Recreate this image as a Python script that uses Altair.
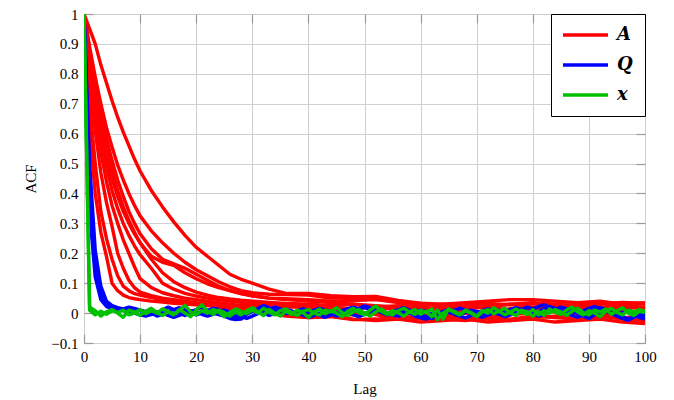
import altair as alt
import pandas as pd

# ---------------- data ----------------
LAG_A = [0, 1, 2, 3, 4, 5, 6, 7, 8, 9, 10, 12, 14, 16, 18, 20, 22, 24, 26, 28, 30,
         33, 36, 40, 44, 48, 52, 56, 60, 64, 68, 72, 76, 80, 84, 88, 92, 96, 100]

A1 = [1.0, 0.95, 0.90, 0.83, 0.77, 0.71, 0.655, 0.605, 0.56, 0.515, 0.475, 0.41, 0.355, 0.305, 0.26,
      0.22, 0.19, 0.16, 0.13, 0.113, 0.10, 0.08, 0.066, 0.066, 0.058, 0.055, 0.056, 0.042, 0.033,
      0.03, 0.028, 0.032, 0.028, 0.033, 0.025, 0.028, 0.03, 0.036, 0.032]
A2 = [1.0, 0.89, 0.79, 0.70, 0.62, 0.555, 0.495, 0.445, 0.40, 0.36, 0.325, 0.275, 0.235, 0.20, 0.17,
      0.145, 0.125, 0.105, 0.088, 0.075, 0.068, 0.063, 0.062, 0.06, 0.05, 0.052, 0.05, 0.04, 0.025,
      0.03, 0.035, 0.04, 0.045, 0.045, 0.04, 0.035, 0.04, 0.03, 0.035]
A3 = [1.0, 0.86, 0.73, 0.62, 0.53, 0.45, 0.39, 0.34, 0.30, 0.265, 0.235, 0.19, 0.17, 0.16, 0.135,
      0.115, 0.098, 0.085, 0.075, 0.065, 0.058, 0.05, 0.045, 0.04, 0.035, 0.03, 0.02, 0.01, 0.0,
      -0.008, 0.01, 0.0, 0.015, 0.02, 0.01, 0.0, 0.005, 0.01, 0.0]
A4 = [1.0, 0.84, 0.70, 0.59, 0.49, 0.41, 0.35, 0.30, 0.26, 0.225, 0.195, 0.15, 0.10, 0.08, 0.066,
      0.057, 0.05, 0.045, 0.04, 0.036, 0.032, 0.028, 0.022, 0.018, 0.012, 0.005, -0.005, -0.02, -0.015,
      -0.02, -0.025, -0.015, -0.02, -0.01, -0.015, -0.02, -0.01, -0.02, -0.025]
A5 = [1.0, 0.78, 0.61, 0.47, 0.37, 0.29, 0.20, 0.15, 0.11, 0.085, 0.07, 0.058, 0.05, 0.045, 0.04,
      0.035, 0.032, 0.03, 0.028, 0.026, 0.025, 0.022, 0.02, 0.025, 0.02, 0.015, 0.02, 0.025, 0.01,
      0.02, 0.015, 0.025, 0.03, 0.02, 0.025, 0.02, 0.015, 0.02, 0.015]
A6 = [1.0, 0.62, 0.40, 0.27, 0.19, 0.10, 0.075, 0.06, 0.052, 0.048, 0.045, 0.04, 0.037, 0.033, 0.03,
      0.028, 0.025, 0.02, 0.015, 0.01, 0.005, 0.0, -0.01, -0.015, -0.01, -0.02, -0.025, -0.02, -0.03,
      -0.025, -0.02, -0.03, -0.025, -0.02, -0.03, -0.025, -0.02, -0.03, -0.035]
A7 = [1.0, 0.70, 0.50, 0.34, 0.25, 0.18, 0.125, 0.09, 0.075, 0.065, 0.06, 0.052, 0.045, 0.04, 0.036,
      0.032, 0.028, 0.022, 0.018, 0.012, 0.008, 0.005, 0.0, -0.005, -0.01, -0.005, 0.0, -0.01, -0.015,
      -0.005, 0.0, -0.01, -0.005, 0.0, 0.005, 0.0, -0.005, 0.005, 0.0]
A8 = [1.0, 0.87, 0.75, 0.645, 0.555, 0.475, 0.41, 0.355, 0.31, 0.27, 0.235, 0.18, 0.135, 0.105, 0.085,
      0.07, 0.06, 0.052, 0.047, 0.043, 0.04, 0.036, 0.032, 0.03, 0.025, 0.03, 0.025, 0.02, 0.015,
      0.02, 0.025, 0.02, 0.01, 0.015, 0.02, 0.025, 0.02, 0.025, 0.02]
A9 = [1.0, 0.88, 0.77, 0.67, 0.585, 0.51, 0.445, 0.39, 0.34, 0.30, 0.265, 0.215, 0.18, 0.165, 0.15,
      0.13, 0.11, 0.09, 0.075, 0.065, 0.058, 0.05, 0.048, 0.045, 0.04, 0.042, 0.045, 0.035, 0.02,
      0.01, 0.015, 0.02, 0.03, 0.035, 0.03, 0.025, 0.03, 0.035, 0.03]
A10 = [1.0, 0.81, 0.66, 0.54, 0.44, 0.36, 0.30, 0.245, 0.20, 0.155, 0.115, 0.085, 0.068, 0.058, 0.05,
       0.045, 0.04, 0.035, 0.03, 0.022, 0.015, 0.005, -0.005, -0.015, -0.012, -0.022, -0.02, -0.015, -0.02,
       -0.01, -0.015, -0.02, -0.025, -0.015, -0.01, -0.005, -0.01, -0.015, -0.01]

LAG_N = list(range(0, 101))

Q1 = [1.0, 0.42, 0.16, 0.065, 0.03, 0.02, 0.015, 0.012, 0.01, 0.012, 0.008,
      0.005, -0.005, 0.0, 0.01, 0.02, 0.012, 0.0, -0.008, 0.004, 0.012,
      0.018, 0.01, 0.0, -0.005, -0.01, -0.018, -0.022, -0.02, -0.005, 0.005,
      0.015, 0.025, 0.018, 0.01, 0.005, -0.002, 0.004, 0.0, -0.006, 0.002,
      0.01, 0.016, 0.01, 0.004, 0.0, 0.008, 0.015, 0.02, 0.014, 0.018,
      0.012, 0.005, 0.01, 0.0, -0.006, -0.01, -0.004, 0.002, -0.01, -0.016,
      -0.02, -0.012, -0.002, 0.006, 0.012, 0.004, -0.004, 0.002, 0.01, 0.006,
      0.0, -0.006, 0.002, 0.01, 0.006, 0.012, 0.018, 0.012, 0.02, 0.014,
      0.022, 0.028, 0.02, 0.012, 0.004, 0.01, 0.006, 0.0, -0.01, -0.018,
      -0.006, 0.004, 0.012, 0.006, -0.004, -0.012, -0.02, -0.01, -0.014, -0.02]
Q2 = [1.0, 0.5, 0.21, 0.09, 0.04, 0.025, 0.018, 0.014, 0.02, 0.016, 0.01,
      0.004, 0.0, -0.01, -0.004, 0.006, 0.012, 0.018, 0.01, 0.002, -0.006,
      0.0, 0.008, 0.016, 0.012, 0.004, -0.006, -0.014, -0.008, 0.002, 0.012,
      0.006, 0.0, -0.008, -0.002, 0.006, 0.012, 0.008, 0.0, -0.006, -0.014,
      -0.008, 0.0, 0.006, -0.002, -0.01, -0.004, 0.004, 0.01, 0.016, 0.024,
      0.018, 0.01, 0.002, -0.006, 0.0, 0.008, 0.004, -0.002, 0.004, 0.01,
      0.006, -0.004, -0.012, -0.006, 0.002, 0.01, 0.016, 0.01, 0.002, -0.008,
      -0.014, -0.006, 0.002, -0.004, -0.012, -0.006, 0.002, 0.008, 0.004, -0.002,
      0.006, 0.014, 0.022, 0.016, 0.008, 0.0, -0.008, -0.014, -0.006, 0.002,
      0.01, 0.018, 0.012, 0.004, -0.004, 0.002, 0.01, 0.004, -0.004, -0.01]
Q3 = [1.0, 0.34, 0.12, 0.045, 0.022, 0.016, 0.012, 0.008, 0.004, 0.0, -0.006,
      -0.01, -0.004, 0.004, 0.0, -0.008, -0.014, -0.008, 0.0, 0.008, 0.004,
      -0.004, -0.01, -0.004, 0.004, 0.01, 0.004, -0.004, -0.012, -0.018, -0.01,
      -0.002, 0.006, 0.012, 0.02, 0.014, 0.006, 0.0, 0.008, 0.014, 0.008,
      0.0, -0.008, -0.014, -0.006, 0.002, 0.008, 0.002, -0.006, -0.012, -0.004,
      0.004, 0.012, 0.006, -0.002, 0.006, 0.012, 0.018, 0.01, 0.002, -0.006,
      -0.012, -0.018, -0.01, -0.002, 0.004, -0.004, -0.01, -0.016, -0.008, 0.0,
      0.008, 0.014, 0.008, 0.0, -0.008, -0.002, 0.006, 0.012, 0.006, -0.002,
      -0.01, -0.004, 0.004, 0.012, 0.02, 0.014, 0.006, 0.0, 0.008, 0.016,
      0.022, 0.014, 0.006, -0.002, -0.01, -0.018, -0.024, -0.014, -0.004, 0.004]

X1 = [1.0, 0.02, 0.008, -0.01, 0.004, 0.012, 0.0, -0.014, 0.01, 0.004, -0.008,
      0.006, 0.016, 0.002, -0.008, 0.004, -0.006, 0.012, 0.0, -0.012, 0.01,
      0.028, 0.006, -0.004, 0.01, 0.002, -0.01, 0.004, -0.006, 0.008, 0.018,
      0.004, -0.008, 0.012, 0.0, -0.01, 0.006, -0.004, 0.01, 0.002, -0.014,
      0.004, 0.014, -0.002, 0.008, 0.0, -0.012, 0.006, 0.016, 0.002, -0.006,
      0.01, 0.024, 0.006, -0.004, 0.008, 0.002, -0.01, 0.004, 0.012, -0.004,
      0.006, -0.012, 0.01, -0.02, 0.014, 0.002, -0.006, 0.008, 0.0, -0.012,
      0.004, 0.012, -0.002, 0.006, 0.016, 0.0, -0.008, 0.01, 0.004, -0.01,
      0.006, -0.008, 0.014, 0.002, -0.004, 0.01, 0.02, 0.004, -0.006, 0.008,
      0.0, -0.012, 0.006, 0.016, 0.002, -0.006, 0.01, 0.004, 0.012, 0.006]
X2 = [1.0, 0.01, -0.006, 0.006, -0.004, 0.008, 0.002, 0.01, -0.006, 0.0, 0.012,
      -0.002, 0.008, 0.0, 0.014, 0.006, -0.004, 0.008, 0.026, 0.004, -0.006,
      0.008, 0.0, 0.012, 0.004, -0.012, 0.002, 0.014, 0.006, -0.002, 0.01,
      0.0, 0.016, 0.004, -0.006, 0.008, 0.014, 0.002, -0.008, 0.006, 0.012,
      0.0, -0.006, 0.01, 0.004, 0.018, 0.002, -0.008, 0.004, 0.012, 0.0,
      -0.01, 0.004, 0.014, 0.0, -0.006, 0.008, 0.016, 0.004, -0.004, 0.01,
      0.002, 0.014, -0.022, 0.0, 0.012, 0.006, -0.004, 0.01, 0.002, -0.01,
      0.008, 0.0, 0.018, 0.006, -0.006, 0.004, 0.014, 0.002, -0.004, 0.012,
      -0.006, 0.008, 0.0, 0.012, 0.004, -0.008, 0.006, 0.016, 0.002, -0.006,
      0.01, 0.004, 0.014, -0.004, 0.008, 0.018, 0.0, -0.008, 0.006, 0.002]

VARS = ["A", "Q", "x"]
COLORS = ["#ff0000", "#0000ff", "#00c000"]
Y_TICKS = [-0.1, 0.0, 0.1, 0.2, 0.3, 0.4, 0.5, 0.6, 0.7, 0.8, 0.9, 1.0]
X_TICKS = [0, 10, 20, 30, 40, 50, 60, 70, 80, 90, 100]

groups = [
    ("A", LAG_A, {"A1": A1, "A2": A2, "A3": A3, "A4": A4, "A5": A5,
                  "A6": A6, "A7": A7, "A8": A8, "A9": A9, "A10": A10}),
    ("Q", LAG_N, {"Q1": Q1, "Q2": Q2, "Q3": Q3}),
    ("x", LAG_N, {"X1": X1, "X2": X2}),
]

W, H = 561, 329
FONT = "Liberation Serif"
TICK_COLOR = "#9a9a9a"

color = alt.Color(
    "var:N",
    scale=alt.Scale(domain=VARS, range=COLORS),
    legend=alt.Legend(
        title=None, orient="top-right", offset=0,
        symbolType="M-1.8,0H7.2", symbolStrokeWidth=3.5, symbolSize=100,
        labelFont="DejaVu Serif", labelFontStyle="italic", labelFontWeight="bold",
        labelFontSize=18, labelColor="black",
        strokeColor="black", fillColor="white", padding=12, rowPadding=12,
        labelOffset=36,
    ),
)


def tick_axis(values, orient, offset):
    # inward-pointing tick marks only (pgfplots style)
    return alt.Axis(values=values, orient=orient, offset=offset, title=None,
                    labels=False, grid=False, domain=False, ticks=True,
                    tickSize=9, tickColor=TICK_COLOR, tickWidth=1.2)


main_x = alt.Axis(values=X_TICKS, title="Lag", format="d", ticks=False, grid=True)
main_y = alt.Axis(values=Y_TICKS, title="ACF", format="~g", ticks=False, grid=True)

axes = [
    (main_x, main_y),
    (tick_axis(X_TICKS, "top", -H), tick_axis(Y_TICKS, "right", -W)),
    (tick_axis(X_TICKS, "bottom", -H), tick_axis(Y_TICKS, "left", -W)),
]

layers = []
for (var, lags, series), (ax_x, ax_y) in zip(groups, axes):
    rows = []
    for name, vals in series.items():
        for l, v in zip(lags, vals):
            rows.append({"lag": l, "acf": v, "series": name, "var": var})
    df = pd.DataFrame(rows)
    layer = alt.Chart(df).mark_line(strokeWidth=3.4, strokeJoin="round", clip=True).encode(
        x=alt.X("lag:Q", scale=alt.Scale(domain=[0, 100], nice=False), axis=ax_x),
        y=alt.Y("acf:Q", scale=alt.Scale(domain=[-0.1, 1.0], nice=False, zero=False), axis=ax_y),
        color=color,
        detail="series:N",
    )
    layers.append(layer)

chart = alt.layer(*layers).resolve_axis(
    x="independent", y="independent"
).properties(
    width=W, height=H,
    autosize=alt.AutoSizeParams(type="none"),
    padding={"left": 76, "top": 6, "right": 20, "bottom": 57},
).configure_view(
    stroke="black", strokeWidth=1,
).configure_axis(
    labelFont=FONT, labelFontSize=15, labelColor="black", labelFlush=False,
    titleFont=FONT, titleFontSize=15, titleFontWeight="normal", titleColor="black",
    gridColor="#cfcfcf", gridWidth=1,
    domain=False, labelPadding=6,
).configure_axisX(
    titlePadding=17,
).configure_axisY(
    titlePadding=12,
)

chart.save("out.html", embed_options={"renderer": "svg", "actions": False})
